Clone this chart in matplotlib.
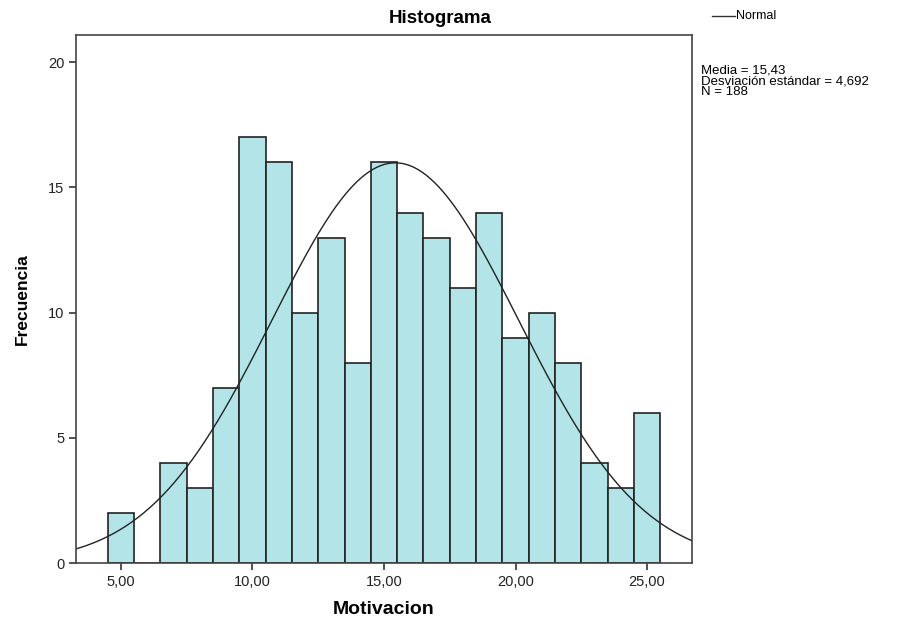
import numpy as np
import matplotlib
matplotlib.use('Agg')
import matplotlib.pyplot as plt
import matplotlib.ticker as tkr

#------------------------datos------------------------------
valores = [5, 6, 7, 8, 9, 10, 11, 12, 13, 14, 15, 16, 17, 18, 19, 20, 21, 22, 23, 24, 25]
frecuencia = [2, 0, 4, 3, 7, 17, 16, 10, 13, 8, 16, 14, 13, 11, 14, 9, 10, 8, 4, 3, 6]
media = 15.43
desv = 4.692
n = 188
ancho = 1.0
xticks = [5, 10, 15, 20, 25]
xticklabels = ['5,00', '10,00', '15,00', '20,00', '25,00']
yticks = [0, 5, 10, 15, 20]

#-----------------------Set matplotlib----------------
plt.rcParams['font.family'] = 'Liberation Sans'

fig = plt.figure(figsize=(9.11, 6.23), dpi=100)
ax = fig.add_axes([0.0834, 0.0963, 0.6762, 0.8475])

ax.bar(valores, frecuencia, width=ancho, color='#b3e5e8', edgecolor='#222222', linewidth=1.2)

# curva normal
xs = np.linspace(3.29, 26.71, 300)
ys = n * ancho / (desv * np.sqrt(2 * np.pi)) * np.exp(-0.5 * ((xs - media) / desv) ** 2)
ax.plot(xs, ys, color='#222222', linewidth=1.0)

ax.set_xlim(3.29, 26.71)
ax.set_ylim(0, 21.09)
ax.set_xticks(xticks)
ax.set_xticklabels(xticklabels)
ax.set_yticks(yticks)
ax.tick_params(labelsize=10.5, length=5, width=1.2, color='#333333', labelcolor='#222222')
for s in ax.spines.values():
    s.set_linewidth(1.2)
    s.set_color('#444444')

ax.set_xlabel('Motivacion', fontsize=14, fontweight='bold', labelpad=9)
ax.set_ylabel('Frecuencia', fontsize=12.5, fontweight='bold', labelpad=13)

fig.text(0.483, 0.97, 'Histograma', ha='center', va='center', fontsize=13.5, fontweight='bold')

# leyenda
fig.add_artist(plt.Line2D([0.782, 0.807], [0.974, 0.974], color='#333333', linewidth=1.0))
fig.text(0.808, 0.974, 'Normal', ha='left', va='center', fontsize=9)
fig.text(0.770, 0.897, 'Media = 15,43\nDesviación estándar = 4,692\nN = 188',
         ha='left', va='top', fontsize=9.5, linespacing=0.9)

plt.savefig('out.png', dpi=100)
